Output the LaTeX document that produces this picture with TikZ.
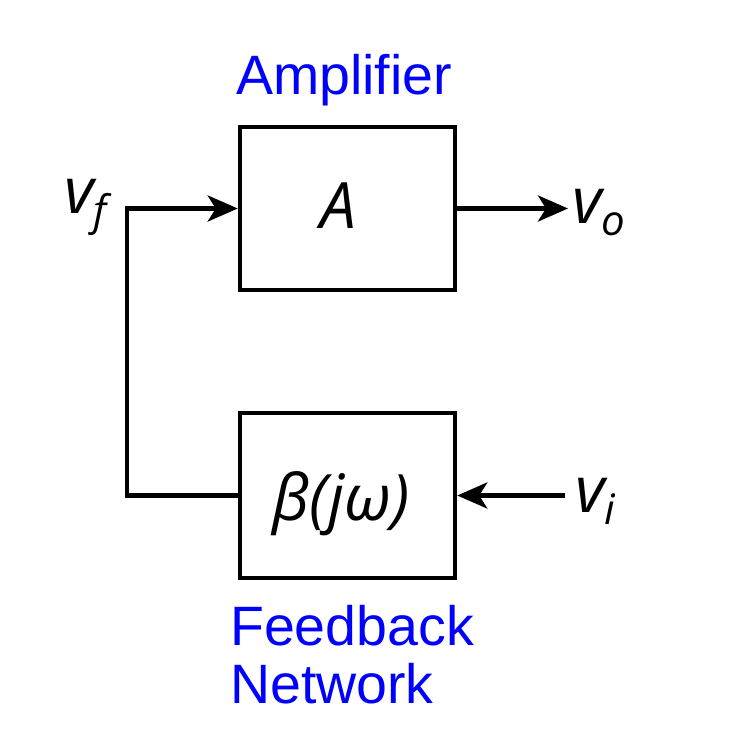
\documentclass[tikz,border=0pt]{standalone}
\usepackage{fontspec}
\setmainfont{Liberation Sans}
\newfontfamily\mifont{Open Sans}[UprightFont=* Italic]
\usetikzlibrary{arrows.meta}
\tikzset{
  blk/.style={draw=black, line width=4.5pt, minimum width=215pt, minimum height=163pt, inner sep=0pt},
  wire/.style={line width=4.5pt},
  arr/.style={wire, -{Stealth[length=30pt,width=26pt,inset=8pt]}},
  mtxt/.style={font=\mifont\fontsize{64}{64}\selectfont, inner sep=0pt},
  lbl/.style={text=blue, font=\fontsize{55.5}{56}\selectfont, inner sep=0pt}
}
\newcommand{\subsc}[1]{\raisebox{-12pt}{\fontsize{42}{42}\selectfont #1}}
\begin{document}
\begin{tikzpicture}[x=1pt,y=-1pt]
\useasboundingbox (0,0) rectangle (728,754);
\fill[white] (0,0) rectangle (728,754);
\node[blk] (amp) at (347.5,208.5) {};
\node[blk, minimum height=165pt] (fb) at (347.5,495.5) {};
\node[mtxt, anchor=base] (A) at (338,228) {A};
\node[mtxt, anchor=base] (beta) at (341,520) {β(jω)};
\coordinate (vo) at (568,208.5);
\coordinate (vi) at (565,495.5);
\coordinate (corner) at (127,0);
\draw[arr] (amp.east) -- (vo);
\draw[arr] (vi) -- (fb.east);
\draw[arr] (fb.west) -- (fb.west -| corner) |- (amp.west);
\node[mtxt, anchor=base west] (vol) at (572,223) {v\subsc{o}};
\node[mtxt, anchor=base west] (vil) at (575,512) {v\subsc{i}};
\node[mtxt, anchor=base west] (vfl) at (64,213) {v\subsc{f}};
\node[lbl, anchor=base west] (ampl) at (236,95) {Amplifier};
\node[lbl, anchor=base west] (fbl) at (230,645) {Feedback};
\node[lbl, anchor=base west] (netl) at (230,703) {Network};
\end{tikzpicture}
\end{document}
